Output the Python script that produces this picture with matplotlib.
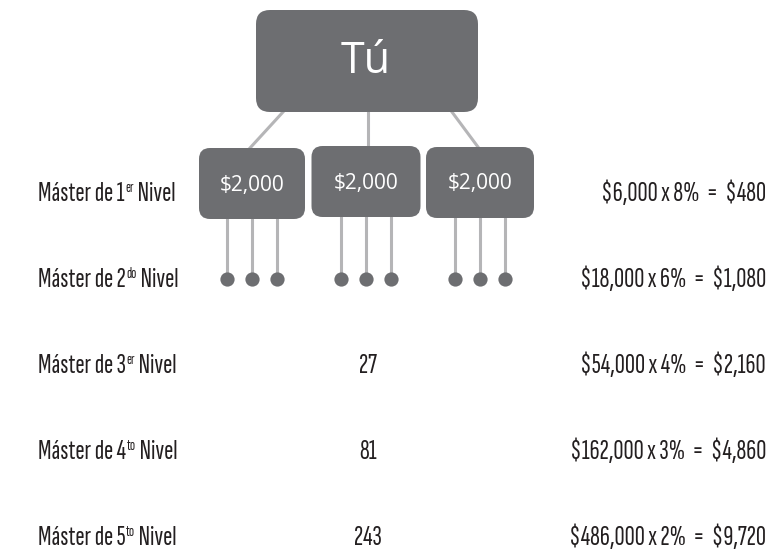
import matplotlib.pyplot as plt
from matplotlib.patches import FancyBboxPatch

narrow = 'Sofia Sans Extra Condensed'

# data
top_label = 'Tú'
child_amounts = ['$2,000', '$2,000', '$2,000']
level_names = ['1', '2', '3', '4', '5']
level_sups = ['er', 'do', 'er', 'to', 'to']
counts = ['', '', '27', '81', '243']
volumes = ['$6,000', '$18,000', '$54,000', '$162,000', '$486,000']
rates = ['8%', '6%', '4%', '3%', '2%']
earnings = ['$480', '$1,080', '$2,160', '$4,860', '$9,720']

box_col = '#6d6e71'
line_col = '#b5b5b7'
txt_col = '#231f20'

fig = plt.figure(figsize=(7.82, 5.59), dpi=100)
ax = fig.add_axes([0, 0, 1, 1])
ax.set_xlim(0, 782)
ax.set_ylim(559, 0)
ax.axis('off')

baselines = [201, 287, 373, 459, 545]

# top box
ax.add_patch(FancyBboxPatch((256, 10), 222, 102, boxstyle='round,pad=0,rounding_size=14',
                            fc=box_col, ec='none', zorder=3))
ax.text(366, 73, top_label, color='white', fontsize=31, family='Open Sans',
        ha='center', va='baseline', zorder=4)

# child boxes
child_x = [252, 366, 480]
child_w = [106, 109, 108]
child_top = [148, 146, 147]
child_h = [71, 71, 71]
link_top = [283, 368, 452]
link_end = [250, 368, 478]
for i, cx in enumerate(child_x):
    ax.plot([link_top[i], link_end[i]], [112, child_top[i]], color=line_col, lw=2.2, zorder=1)
    ax.add_patch(FancyBboxPatch((cx - child_w[i] / 2, child_top[i]), child_w[i], child_h[i],
                                boxstyle='round,pad=0,rounding_size=11',
                                fc=box_col, ec='none', zorder=3))
    ax.text(cx, child_top[i] + 37, child_amounts[i].replace('$', r'\$'), color='white',
            fontsize=15, family='Open Sans', ha='center', va='center', zorder=4)
    for dx in (-25, 0, 25):
        ax.plot([cx + dx, cx + dx], [child_top[i] + 60, 279], color=line_col, lw=2.2, zorder=1)
        ax.scatter([cx + dx], [279], s=105, color=box_col, zorder=3, linewidths=0)

# rows
fig.canvas.draw()
renderer = fig.canvas.get_renderer()
inv = ax.transData.inverted()


def right_edge(t):
    bb = t.get_window_extent(renderer).transformed(inv)
    return max(bb.x0, bb.x1)


for i, y in enumerate(baselines):
    t1 = ax.text(38, y, 'Máster de ' + level_names[i], fontsize=20, family=narrow,
                 color=txt_col, ha='left', va='baseline')
    x1 = right_edge(t1)
    t2 = ax.text(x1 + 0.5, y - 9, level_sups[i], fontsize=11, family=narrow,
                 color=txt_col, ha='left', va='baseline')
    x2 = right_edge(t2)
    ax.text(x2, y, ' Nivel', fontsize=20, family=narrow, color=txt_col,
            ha='left', va='baseline')
    if counts[i]:
        ax.text(368, y, counts[i], fontsize=20, family=narrow, color=txt_col,
                ha='center', va='baseline')
    calc = volumes[i].replace('$', r'\$') + ' x ' + rates[i] + '  =  ' + earnings[i].replace('$', r'\$')
    ax.text(766, y, calc, fontsize=20, family=narrow, color=txt_col,
            ha='right', va='baseline')

fig.savefig('out.png', dpi=100)
